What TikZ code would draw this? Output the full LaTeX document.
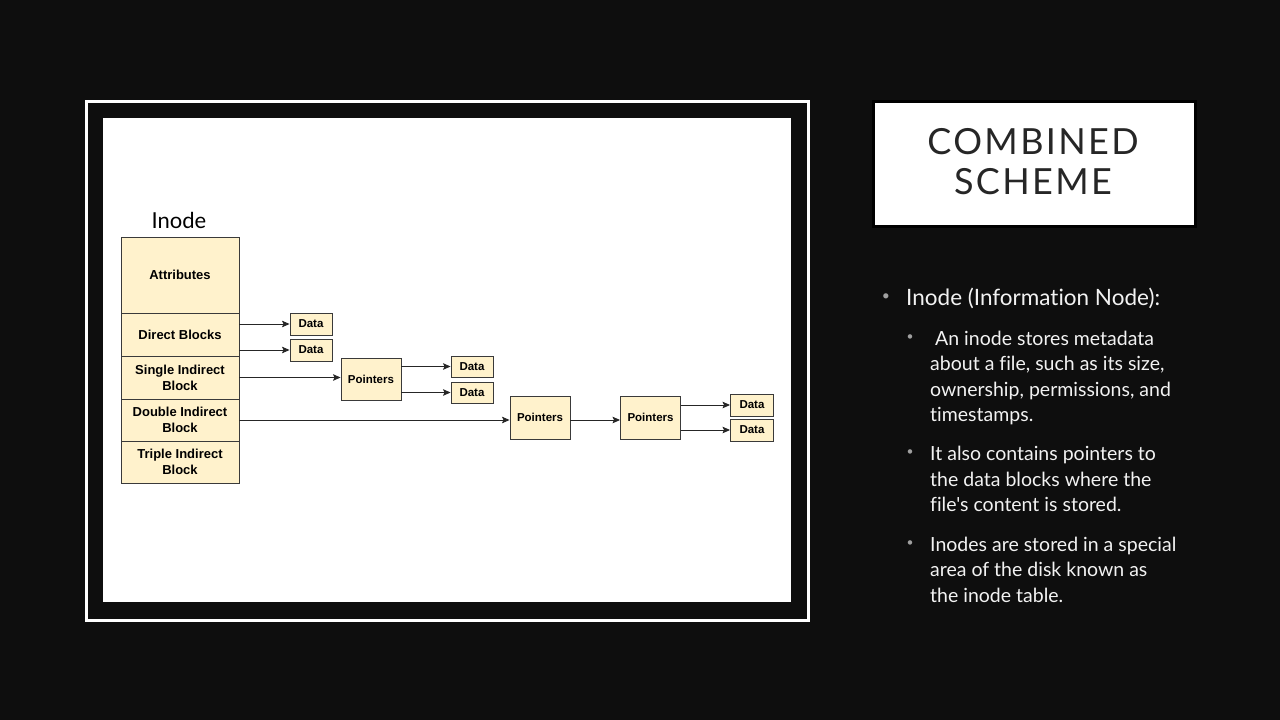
\documentclass[tikz,border=0pt]{standalone}
\usepackage{fontspec}
\setmainfont{Liberation Sans}
\newfontfamily\gillfont[Ligatures={NoCommon}]{Lato}
\newfontfamily\titlefont[LetterSpace=6.5,Ligatures={NoCommon}]{Lato}
\usetikzlibrary{arrows.meta}
\definecolor{slidebg}{HTML}{0E0E0E}
\definecolor{cellfill}{HTML}{FFF2CC}
\definecolor{cellline}{HTML}{3A3A3A}
\definecolor{titleline}{HTML}{404040}
\definecolor{titletext}{HTML}{262626}
\definecolor{bodytext}{HTML}{F2F2F2}
\definecolor{bulletgray}{HTML}{A0A0A0}
\begin{document}
\begin{tikzpicture}[x=1pt,y=-1pt,
  cell/.style={draw=cellline, fill=cellfill, line width=0.9pt, inner sep=0pt,
    align=center, text=black, font=\fontsize{13}{16}\selectfont\bfseries},
  smallcell/.style={cell, font=\fontsize{11.5}{13}\selectfont\bfseries},
  link/.style={-{Stealth[length=7.5pt,width=6.5pt,inset=1.5pt]}, line width=0.9pt, draw=black!85},
  bodyline/.style={anchor=base west, inner sep=0pt, text=bodytext,
    font=\gillfont\fontsize{19.5}{23}\selectfont},
  dot/.style={anchor=center, inner sep=0pt, text=bulletgray,
    font=\gillfont\fontsize{14}{16}\selectfont},
  titleline/.style={inner sep=0pt, text=titletext,
    font=\titlefont\fontsize{36}{40}\selectfont}
]
% slide background
\fill[slidebg] (0,0) rectangle (1280,720);

% framed diagram panel
\draw[white, line width=3pt] (86.5,101.5) rectangle (808.5,620.5);
\fill[white] (103,118) rectangle (791,602);

% title box
\draw[titleline, fill=white, line width=3pt] (873.5,101.5) rectangle (1195,226);
\node[titleline] (t1) at (1033,142) {COMBINED};
\node[titleline] (t2) at (1033,182) {SCHEME};

% inode table
\node[inner sep=0pt, font=\gillfont\fontsize{22}{26}\selectfont] (ilabel) at (179,220) {Inode};
\node[cell, minimum width=118pt, minimum height=76pt] (attr)   at (180,275)   {Attributes};
\node[cell, minimum width=118pt, minimum height=43pt] (direct) at (180,334.5) {Direct Blocks};
\node[cell, minimum width=118pt, minimum height=43pt] (single) at (180,377.5) {Single Indirect\\Block};
\node[cell, minimum width=118pt, minimum height=42pt] (double) at (180,420)   {Double Indirect\\Block};
\node[cell, minimum width=118pt, minimum height=42pt] (triple) at (180,462)   {Triple Indirect\\Block};

% data and pointer blocks
\node[smallcell, minimum width=42pt, minimum height=22pt] (d1) at (311,324) {Data};
\node[smallcell, minimum width=42pt, minimum height=22pt] (d2) at (311,350) {Data};
\node[smallcell, minimum width=60pt, minimum height=42pt] (p1) at (371,379.5) {Pointers};
\node[smallcell, minimum width=42pt, minimum height=21pt] (d3) at (472,366.5) {Data};
\node[smallcell, minimum width=42pt, minimum height=21pt] (d4) at (472,392.5) {Data};
\node[smallcell, minimum width=60pt, minimum height=43pt] (p2) at (540,417.5) {Pointers};
\node[smallcell, minimum width=60pt, minimum height=43pt] (p3) at (650.5,417.5) {Pointers};
\node[smallcell, minimum width=43pt, minimum height=22pt] (d5) at (752,405) {Data};
\node[smallcell, minimum width=43pt, minimum height=22pt] (d6) at (752,430) {Data};

% connectors
\draw[link] (direct.east |- d1) -- (d1.west);
\draw[link] (direct.east |- d2) -- (d2.west);
\draw[link] (single.east) -- (single.east -| p1.west);
\draw[link] (p1.east |- d3) -- (d3.west);
\draw[link] (p1.east |- d4) -- (d4.west);
\draw[link] (double.east) -- (double.east -| p2.west);
\draw[link] (p2.east |- double.east) -- (p3.west |- double.east);
\draw[link] (p3.east |- d5) -- (d5.west);
\draw[link] (p3.east |- d6) -- (d6.west);

% bullet text
\node[dot] (b0) at (886,297) {•};
\node[bodyline, font=\gillfont\fontsize{22.5}{26}\selectfont] (l0) at (906,305) {Inode (Information Node):};
\node[dot, font=\gillfont\fontsize{12}{14}\selectfont] (b1) at (910,338) {•};
\node[bodyline] (l1) at (930,345) {\ An inode stores metadata};
\node[bodyline] (l2) at (930,370) {about a file, such as its size,};
\node[bodyline] (l3) at (930,396) {ownership, permissions, and};
\node[bodyline] (l4) at (930,421) {timestamps.};
\node[dot, font=\gillfont\fontsize{12}{14}\selectfont] (b2) at (910,453) {•};
\node[bodyline] (l5) at (930,460) {It also contains pointers to};
\node[bodyline] (l6) at (930,486) {the data blocks where the};
\node[bodyline] (l7) at (930,511) {file's content is stored.};
\node[dot, font=\gillfont\fontsize{12}{14}\selectfont] (b3) at (910,544) {•};
\node[bodyline] (l8) at (930,551) {Inodes are stored in a special};
\node[bodyline] (l9) at (930,576) {area of the disk known as};
\node[bodyline] (l10) at (930,602) {the inode table.};
\end{tikzpicture}
\end{document}
